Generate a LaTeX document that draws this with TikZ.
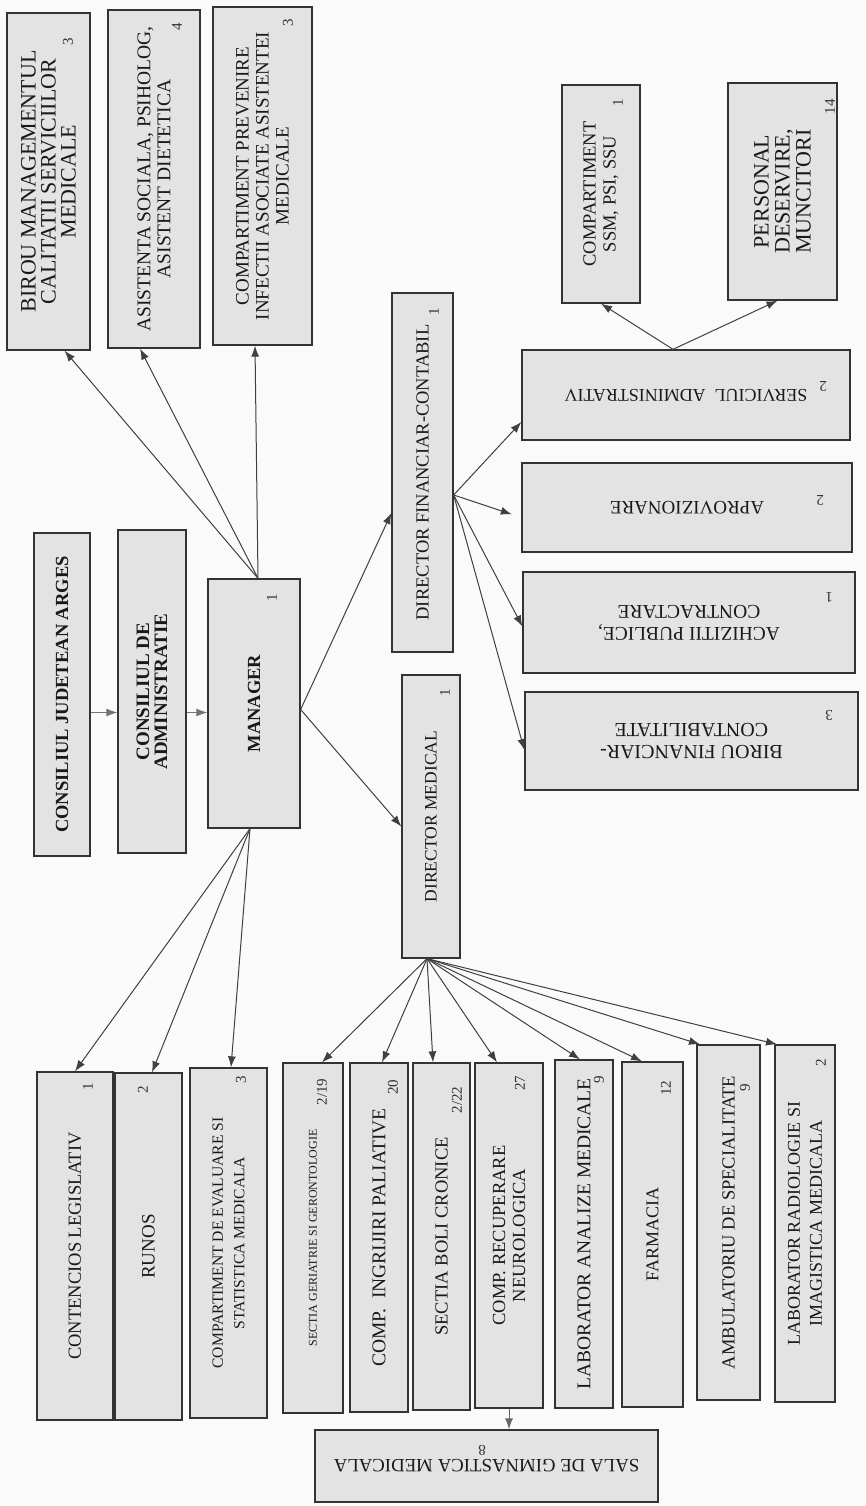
\documentclass[tikz,border=0pt]{standalone}
\usepackage{fontspec}
\setmainfont{Liberation Serif}
\usetikzlibrary{arrows.meta,shapes,positioning}

\begin{document}
\begin{tikzpicture}[x=1pt,y=-1pt]
    \tikzset{box/.style = {shape=rectangle,draw=black!80,line width=1.3pt,fill=black!11,align=center,inner sep=1pt,text=black!90,font=\fontsize{18}{20}\selectfont}}
    \tikzset{vbox/.style = {box,rotate=90}}
    \tikzset{flipbox/.style = {box,rotate=180}}
    \tikzset{nr/.style = {inner sep=0pt,text=black!80,font=\fontsize{15}{15}\selectfont}}
    \tikzset{edge/.style = {-{Latex[length=11pt,width=8pt]},line width=1pt,draw=black!75}}
    % sheet
    \fill[black!2] (0,0) rectangle (865,1506);
    \useasboundingbox (0,0) rectangle (865,1506);
    % top row
    \node[vbox,minimum width=337,minimum height=83,font=\fontsize{22}{20}\selectfont] (bmc) at (48.5,181.5) {BIROU MANAGEMENTUL\\CALITATII SERVICIILOR\\MEDICALE};
    \node[vbox,minimum width=338,minimum height=92,font=\fontsize{19.5}{20}\selectfont] (asis) at (154,179) {ASISTENTA SOCIALA, PSIHOLOG,\\ASISTENT DIETETICA};
    \node[vbox,minimum width=338,minimum height=99,font=\fontsize{19}{20}\selectfont] (cpi) at (262.5,176) {COMPARTIMENT PREVENIRE\\INFECTII ASOCIATE ASISTENTEI\\MEDICALE};
    \node[nr,rotate=90] (bmcnr) at (68,42) {3};
    \node[nr,rotate=90] (asisnr) at (177,27) {4};
    \node[nr,rotate=90] (cpinr) at (288,23) {3};
    % management line
    \node[vbox,minimum width=323,minimum height=56,font=\fontsize{18.5}{20}\selectfont\bfseries] (cja) at (62,694.5) {CONSILIUL JUDETEAN ARGES};
    \node[vbox,minimum width=323,minimum height=68,font=\fontsize{19}{18}\selectfont\bfseries] (cda) at (152,691.5) {CONSILIUL DE\\ADMINISTRATIE};
    \node[vbox,minimum width=249,minimum height=92,font=\fontsize{18.5}{20}\selectfont\bfseries] (mgr) at (254,703.5) {MANAGER};
    \node[nr,rotate=90] (mgrnr) at (272,598) {1};
    \node[vbox,minimum width=359,minimum height=61,font=\fontsize{18.5}{20}\selectfont] (dfc) at (422.5,472.5) {DIRECTOR FINANCIAR-CONTABIL};
    \node[nr,rotate=90] (dfcnr) at (434,312) {1};
    \node[vbox,minimum width=283,minimum height=58,font=\fontsize{17.5}{20}\selectfont] (dmed) at (431,816.5) {DIRECTOR MEDICAL};
    \node[nr,rotate=90] (dmednr) at (445,693) {1};
    % financial side
    \node[vbox,minimum width=218,minimum height=78,font=\fontsize{18.5}{20}\selectfont] (ssm) at (601,194) {COMPARTIMENT\\SSM, PSI, SSU};
    \node[nr,rotate=90] (ssmnr) at (618,103) {1};
    \node[vbox,minimum width=217,minimum height=109,font=\fontsize{22}{21}\selectfont] (pers) at (782.5,191.5) {PERSONAL\\DESERVIRE,\\MUNCITORI};
    \node[nr,rotate=90] (persnr) at (830,107) {14};
    \node[flipbox,minimum width=328,minimum height=90] (serv) at (686,395) {SERVICIUL\ \ ADMINISTRATIV};
    \node[nr,rotate=180] (servnr) at (823,386) {2};
    \node[flipbox,minimum width=330,minimum height=89,font=\fontsize{19}{20}\selectfont] (aprov) at (687,507.5) {APROVIZIONARE};
    \node[nr,rotate=180] (aprovnr) at (820,500) {2};
    \node[flipbox,minimum width=332,minimum height=101,font=\fontsize{19.5}{22}\selectfont] (achiz) at (689,622.5) {ACHIZITII PUBLICE,\\CONTRACTARE};
    \node[nr,rotate=180] (achiznr) at (829,597) {1};
    \node[flipbox,minimum width=333,minimum height=98,font=\fontsize{20}{22}\selectfont] (bfc) at (691.5,741) {BIROU FINANCIAR-\\CONTABILITATE};
    \node[nr,rotate=180] (bfcnr) at (829,715) {3};
    % bottom row
    \node[vbox,minimum width=348,minimum height=76,font=\fontsize{18.5}{20}\selectfont] (cont) at (75,1246) {CONTENCIOS LEGISLATIV};
    \node[nr,rotate=90] (contnr) at (88,1087) {1};
    \node[vbox,minimum width=347,minimum height=67,font=\fontsize{19}{20}\selectfont] (runos) at (148.5,1246.5) {RUNOS};
    \node[nr,rotate=90] (runosnr) at (143,1090) {2};
    \node[vbox,minimum width=350,minimum height=77,font=\fontsize{15.6}{21.5}\selectfont] (ceval) at (228.5,1243) {COMPARTIMENT DE EVALUARE SI\\STATISTICA MEDICALA};
    \node[nr,rotate=90] (cevalnr) at (241,1080) {3};
    \node[vbox,minimum width=350,minimum height=60,font=\fontsize{12}{14}\selectfont] (sger) at (313,1238) {SECTIA GERIATRIE SI GERONTOLOGIE};
    \node[nr,rotate=90] (sgernr) at (322,1092) {2/19};
    \node[vbox,minimum width=349,minimum height=58,font=\fontsize{19.5}{20}\selectfont] (cingr) at (379,1237.5) {COMP.\ \ INGRIJIRI PALIATIVE};
    \node[nr,rotate=90] (cingrnr) at (393,1087) {20};
    \node[vbox,minimum width=347,minimum height=57,font=\fontsize{18.5}{20}\selectfont] (sboli) at (441.5,1236.5) {SECTIA BOLI CRONICE};
    \node[nr,rotate=90] (sbolinr) at (457,1100) {2/22};
    \node[vbox,minimum width=345,minimum height=68,font=\fontsize{18.5}{20}\selectfont] (crec) at (509,1235.5) {COMP. RECUPERARE\\NEUROLOGICA};
    \node[nr,rotate=90] (crecnr) at (520,1083) {27};
    \node[vbox,minimum width=348,minimum height=58,font=\fontsize{19.5}{20}\selectfont] (lab) at (584,1234) {LABORATOR ANALIZE MEDICALE};
    \node[nr,rotate=90] (labnr) at (599,1080) {9};
    \node[vbox,minimum width=345,minimum height=61,font=\fontsize{18}{20}\selectfont] (farm) at (652.5,1234.5) {FARMACIA};
    \node[nr,rotate=90] (farmnr) at (666,1088) {12};
    \node[vbox,minimum width=355,minimum height=63,font=\fontsize{18.5}{20}\selectfont] (amb) at (728.5,1222.5) {AMBULATORIU DE SPECIALITATE};
    \node[nr,rotate=90] (ambnr) at (745,1088) {9};
    \node[vbox,minimum width=357,minimum height=60,font=\fontsize{18}{22}\selectfont] (lrad) at (805,1223.5) {LABORATOR RADIOLOGIE SI\\IMAGISTICA MEDICALA};
    \node[nr,rotate=90] (lradnr) at (821,1063) {2};
    \node[flipbox,minimum width=343,minimum height=72,font=\fontsize{18.8}{20}\selectfont] (sala) at (486.5,1466) {SALA DE GIMNASTICA MEDICALA};
    \node[nr,rotate=180] (salanr) at (482,1450) {8};
    % connectors
    \draw[edge,draw=black!55] ([yshift=-18pt]cja.south) -- ([yshift=-21pt]cda.north);
    \draw[edge,draw=black!55] ([yshift=-21pt]cda.south) -- ([yshift=-9pt]mgr.north);
    \draw[edge] ([xshift=4pt]mgr.east) -- ([xshift=16pt]bmc.west);
    \draw[edge] ([xshift=4pt]mgr.east) -- ([xshift=-14pt]asis.west);
    \draw[edge] ([xshift=4pt]mgr.east) -- ([xshift=-7.5pt]cpi.west);
    \draw[edge] ([yshift=-6pt]mgr.south) -- ([yshift=-40.5pt]dfc.north);
    \draw[edge] ([yshift=-6pt]mgr.south) -- ([yshift=-10pt]dmed.north);
    \draw[edge] ([xshift=-4pt]mgr.west) -- (cont.east);
    \draw[edge] ([xshift=-4pt]mgr.west) -- ([xshift=3.5pt]runos.east);
    \draw[edge] ([xshift=-4pt]mgr.west) -- ([xshift=2.5pt]ceval.east);
    \draw[edge] ([xshift=-4pt]dmed.west) -- ([xshift=9pt]sger.east);
    \draw[edge] ([xshift=-4pt]dmed.west) -- ([xshift=3pt]cingr.east);
    \draw[edge] ([xshift=-4pt]dmed.west) -- ([xshift=-8.5pt]sboli.east);
    \draw[edge] ([xshift=-4pt]dmed.west) -- ([xshift=-12pt]crec.east);
    \draw[edge] ([xshift=-4pt]dmed.west) -- ([xshift=-4pt]lab.east);
    \draw[edge] ([xshift=-4pt]dmed.west) -- ([xshift=-10.5pt]farm.east);
    \draw[edge] ([xshift=-4pt]dmed.west) -- ([xshift=-28.5pt]amb.east);
    \draw[edge] ([xshift=-4pt]dmed.west) -- ([xshift=-28pt]lrad.east);
    \draw[edge] ([yshift=-22.5pt]dfc.south) -- ([yshift=-27pt]serv.east);
    \draw[edge,shorten >=10pt] ([yshift=-22.5pt]dfc.south) -- ([yshift=-10pt]aprov.east);
    \draw[edge] ([yshift=-22.5pt]dfc.south) -- ([yshift=-4pt]achiz.east);
    \draw[edge] ([yshift=-22.5pt]dfc.south) -- ([yshift=-9pt]bfc.east);
    \draw[edge] ([xshift=-13pt]serv.south) -- (ssm.west);
    \draw[edge] ([xshift=-13pt]serv.south) -- ([xshift=-5pt]pers.west);
    \draw[edge,draw=black!60] (crec.west) -- (crec.west |- sala.south);
\end{tikzpicture}
\end{document}
